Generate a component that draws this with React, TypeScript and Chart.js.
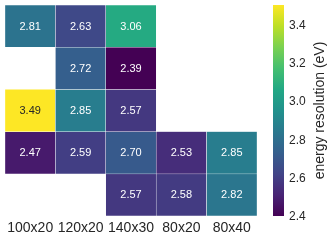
import { useEffect, useRef } from 'react';
import { Chart, registerables } from 'chart.js';

Chart.register(...registerables);

const columns = ['100x20', '120x20', '140x30', '80x20', '80x40'];
const row1: (number | null)[] = [2.81, 2.63, 3.06, null, null];
const row2: (number | null)[] = [null, 2.72, 2.39, null, null];
const row3: (number | null)[] = [3.49, 2.85, 2.57, null, null];
const row4: (number | null)[] = [2.47, 2.59, 2.70, 2.53, 2.85];
const row5: (number | null)[] = [null, null, 2.57, 2.58, 2.82];
const rows = [row1, row2, row3, row4, row5];

const colorMin = 2.39;
const colorMax = 3.49;
const colorbarStep = 0.2;
const colorbarLabel = 'energy resolution (eV)';

const FONT = 'Liberation Sans';
const TEXT_DARK = '#262626';

const viridisStops = [
  [68, 1, 84], [72, 36, 117], [65, 68, 135], [53, 95, 141], [42, 120, 142],
  [33, 145, 140], [34, 168, 132], [68, 191, 112], [122, 209, 81], [189, 223, 38], [253, 231, 37],
];

function viridisRGB(t: number): number[] {
  const c = Math.min(1, Math.max(0, t)) * (viridisStops.length - 1);
  const i = Math.min(viridisStops.length - 2, Math.floor(c));
  const f = c - i;
  const a = viridisStops[i], b = viridisStops[i + 1];
  return [0, 1, 2].map(k => Math.round(a[k] + (b[k] - a[k]) * f));
}
const toCss = (c: number[]) => `rgb(${c[0]},${c[1]},${c[2]})`;
const norm = (v: number) => (v - colorMin) / (colorMax - colorMin);

function luminance(c: number[]) {
  const lin = c.map(x => {
    const s = x / 255;
    return s <= 0.03928 ? s / 12.92 : Math.pow((s + 0.055) / 1.055, 2.4);
  });
  return 0.2126 * lin[0] + 0.7152 * lin[1] + 0.0722 * lin[2];
}

const heatPlugin = {
  id: 'heatExtras',
  afterDatasetsDraw(chart: any) {
    const ctx = chart.ctx;
    ctx.save();
    ctx.font = `11px "${FONT}"`;
    ctx.textAlign = 'center';
    ctx.textBaseline = 'middle';
    rows.forEach((row, i) => {
      const meta = chart.getDatasetMeta(i);
      meta.data.forEach((el: any, j: number) => {
        const v = row[j];
        if (v == null) return;
        const p = el.getProps(['x', 'y', 'base'], true);
        const rgb = viridisRGB(norm(v));
        ctx.fillStyle = luminance(rgb) > 0.408 ? TEXT_DARK : '#ffffff';
        ctx.fillText(v.toFixed(2), p.x, (p.y + p.base) / 2 + 0.5);
      });
    });
    // colorbar
    const cb = chart.scales.cb;
    const top = cb.getPixelForValue(colorMax);
    const bottom = cb.getPixelForValue(colorMin);
    const x0 = cb.left + 16;
    const w = 11;
    const grad = ctx.createLinearGradient(0, bottom, 0, top);
    viridisStops.forEach((s, k) => grad.addColorStop(k / (viridisStops.length - 1), toCss(s)));
    ctx.fillStyle = grad;
    ctx.fillRect(x0, top, w, bottom - top);
    // colorbar title
    ctx.translate(cb.left + 63, (top + bottom) / 2);
    ctx.rotate(-Math.PI / 2);
    ctx.font = `14px "${FONT}"`;
    ctx.fillStyle = TEXT_DARK;
    ctx.fillText(colorbarLabel, 0, 0);
    ctx.restore();
  },
};

export default function App() {
  const ref = useRef<HTMLCanvasElement>(null);
  useEffect(() => {
    if (!ref.current) return;
    Chart.defaults.font.family = FONT;
    const chart = new Chart(ref.current, {
      type: 'bar',
      data: {
        labels: columns,
        datasets: rows.map((row, r) => ({
          label: `row ${r + 1}`,
          data: row.map(v => (v == null ? null : [r, r + 1])) as any,
          backgroundColor: row.map(v => (v == null ? 'rgba(0,0,0,0)' : toCss(viridisRGB(norm(v))))),
          borderColor: 'rgba(255,255,255,0.9)',
          borderWidth: 0.5,
          borderSkipped: false,
          grouped: false,
          barPercentage: 1,
          categoryPercentage: 1,
          xAxisID: 'x',
          yAxisID: 'y',
        })),
      },
      options: {
        responsive: false,
        animation: false,
        layout: { padding: { top: 5, left: 5, right: 0, bottom: 0 } },
        plugins: { legend: { display: false }, tooltip: { enabled: false } },
        scales: {
          x: {
            type: 'category',
            grid: { display: false, drawTicks: false },
            border: { display: false },
            ticks: { padding: 4, font: { size: 14, family: FONT }, color: TEXT_DARK, maxRotation: 0, autoSkip: false },
            afterFit: (s: any) => { s.height = 24; s.paddingLeft = 0; s.paddingRight = 0; },
          },
          y: { type: 'linear', min: 0, max: 5, reverse: true, display: false },
          cb: {
            type: 'linear',
            position: 'right',
            min: colorMin,
            max: colorMax,
            grid: { display: false, drawTicks: false },
            border: { display: false },
            ticks: {
              stepSize: colorbarStep,
              includeBounds: false,
              padding: 32,
              labelOffset: 3,
              font: { size: 12, family: FONT },
              color: TEXT_DARK,
              callback: (v: any) => Number(v).toFixed(1),
            },
            afterFit: (s: any) => { s.width = 75; s.paddingTop = 0; s.paddingBottom = 0; },
          },
        },
      } as any,
      plugins: [heatPlugin],
    });
    return () => chart.destroy();
  }, []);
  return (
    <div style={{ position: 'fixed', left: 0, top: 0, width: 332, height: 240, background: '#fff' }}>
      <canvas ref={ref} width={332} height={240} style={{ display: 'block' }} />
    </div>
  );
}
